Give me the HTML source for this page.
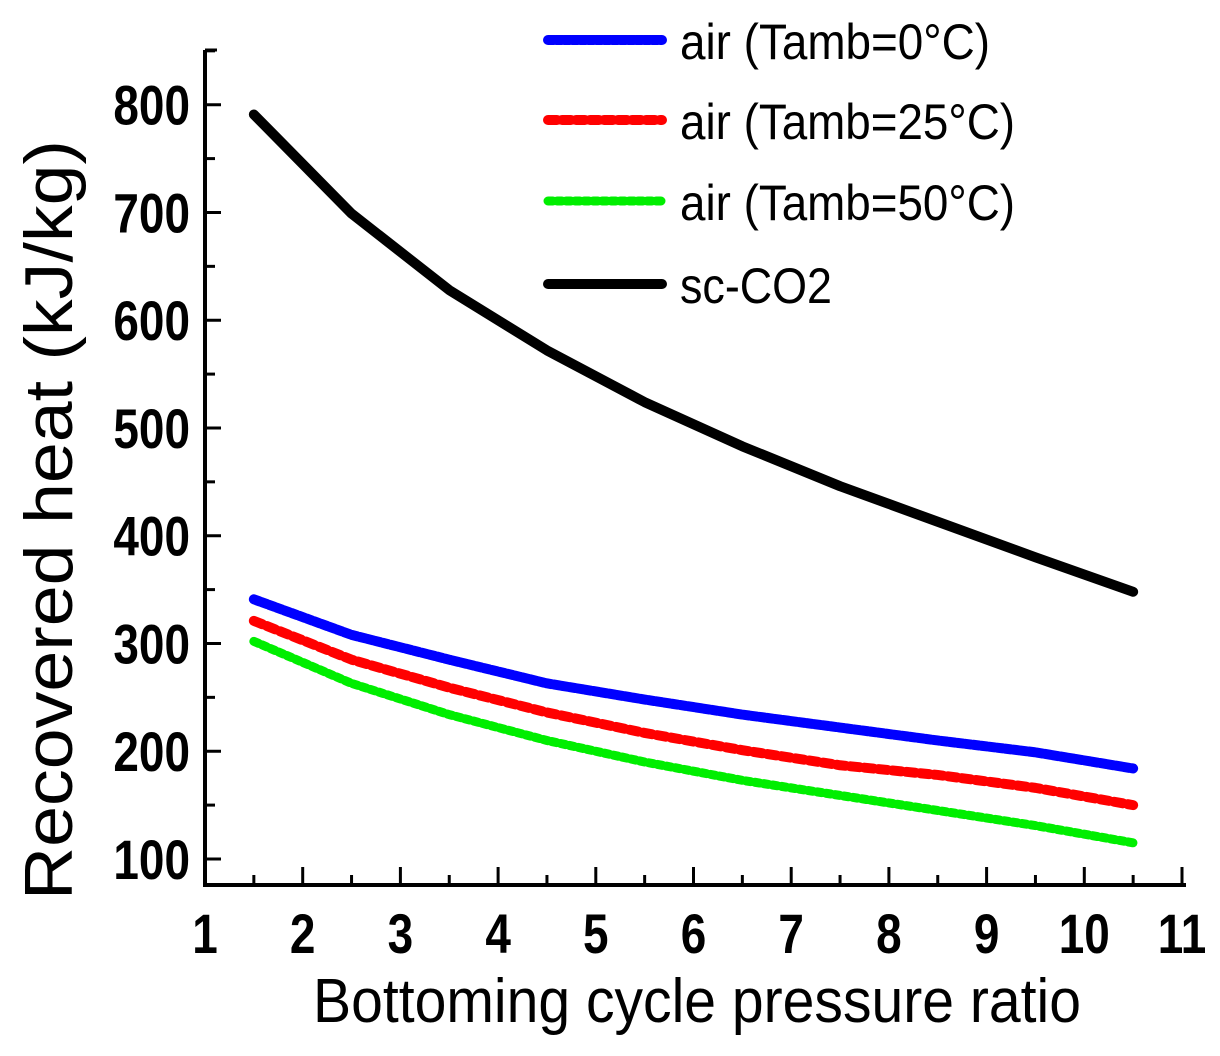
<!DOCTYPE html>
<html><head><meta charset="utf-8"><style>
html,body{margin:0;padding:0;background:#fff}
svg{display:block}
text{font-family:"Liberation Sans",Arial,sans-serif;fill:#000}
</style></head><body>
<svg id="chart" width="1220" height="1056" viewBox="0 0 1220 1056" xmlns="http://www.w3.org/2000/svg">
<g id="axes"></g>
<g id="series"></g>
<g id="legend"></g>
<text x="313" y="1022" font-size="62" textLength="768" lengthAdjust="spacingAndGlyphs">Bottoming cycle pressure ratio</text>
<text transform="translate(72 520) rotate(-90)" x="-380" y="0" font-size="68" textLength="760" lengthAdjust="spacingAndGlyphs">Recovered heat (kJ/kg)</text>
</svg>
<script>
const xs = [1.5,2.5,3.5,4.5,5.5,6.5,7.5,8.5,9.5,10.5];
const co2 = [791,699,628,572,524,483,446,413,380,348];
const air0 = [341,308,285,263,248,234,222,210,199,184];
const air25 = [321,285,259,236,217,201,187,178,166,150];
const air50 = [302,263,234,210,190,173,159,145,131,115];
const xTicks = [1,2,3,4,5,6,7,8,9,10,11];
const yTicks = [100,200,300,400,500,600,700,800];
const seriesNames = ["air (Tamb=0°C)","air (Tamb=25°C)","air (Tamb=50°C)","sc-CO2"];

const NS="http://www.w3.org/2000/svg";
const X0=205, X1=1182, Y0=885, Ytop=50;
function sx(v){return X0+(v-1)*(X1-X0)/10;}
function sy(v){return 859-(v-100)*1.0775;}
function mk(tag,attrs,parent){const e=document.createElementNS(NS,tag);for(const k in attrs)e.setAttribute(k,attrs[k]);parent.appendChild(e);return e;}
const axes=document.getElementById('axes');
let l=mk('line',{x1:X0,y1:Y0,x2:1186,y2:Y0,stroke:'#000','stroke-width':4},axes);


l=mk('line',{x1:X0,y1:Y0+2,x2:X0,y2:Ytop,stroke:'#000','stroke-width':4},axes);


mk('line',{x1:X0,y1:Ytop,x2:X0+12,y2:Ytop,stroke:'#000','stroke-width':3},axes);
xTicks.forEach((t,i)=>{
  const x=sx(t);
  mk('line',{x1:x,y1:Y0,x2:x,y2:Y0-18,stroke:'#000','stroke-width':3},axes);
  if(i<xTicks.length-1) mk('line',{x1:x+(X1-X0)/20,y1:Y0,x2:x+(X1-X0)/20,y2:Y0-10,stroke:'#000','stroke-width':3},axes);
  const tx=mk('text',{x:x,y:953,'font-size':56,'font-weight':'bold','text-anchor':'middle',transform:`translate(${x} 0) scale(0.82 1) translate(${-x} 0)`},axes);
  tx.textContent=t;
  
  
});
yTicks.forEach(t=>{
  const y=sy(t);
  mk('line',{x1:X0,y1:y,x2:X0+16,y2:y,stroke:'#000','stroke-width':3},axes);
  mk('line',{x1:X0,y1:y-53.9,x2:X0+10,y2:y-53.9,stroke:'#000','stroke-width':3},axes);
  const tx=mk('text',{x:190,y:y+20,'font-size':56,'font-weight':'bold','text-anchor':'end',transform:`translate(190 0) scale(0.82 1) translate(-190 0)`},axes);
  tx.textContent=t;
  
  
});
const ser=document.getElementById('series');
const styles=[
 {d:air0,c:'#0000ff',w:10,dash:'6 2',name:'series-air-0c'},
 {d:air25,c:'#ff0000',w:10,dash:'9 5',name:'series-air-25c'},
 {d:air50,c:'#00ee00',w:9,dash:'5 4',name:'series-air-50c'},
 {d:co2,c:'#000',w:10,dash:'',name:'series-sc-co2'}];
styles.forEach(s=>{
  const pts=xs.map((x,i)=>sx(x)+','+sy(s.d[i])).join(' ');
  const p=mk('polyline',{points:pts,fill:'none',stroke:s.c,'stroke-width':s.w,'stroke-linecap':'round','stroke-linejoin':'round'},ser);
  if(s.dash)p.setAttribute('stroke-dasharray',s.dash);
  
  
});
const leg=document.getElementById('legend');
const ly=[40,120,201,284];
const lw=[310,335,335,152];
styles.forEach((s,i)=>{
  const g=mk('g',{},leg);
  
  
  const ln=mk('line',{x1:548,y1:ly[i],x2:662,y2:ly[i],stroke:s.c,'stroke-width':s.w,'stroke-linecap':'round'},g);
  if(s.dash)ln.setAttribute('stroke-dasharray',s.dash);
  const tx=mk('text',{x:680,y:ly[i]+19,'font-size':50,textLength:lw[i],lengthAdjust:'spacingAndGlyphs'},g);
  tx.textContent=seriesNames[i];
});
</script>
</body></html>
